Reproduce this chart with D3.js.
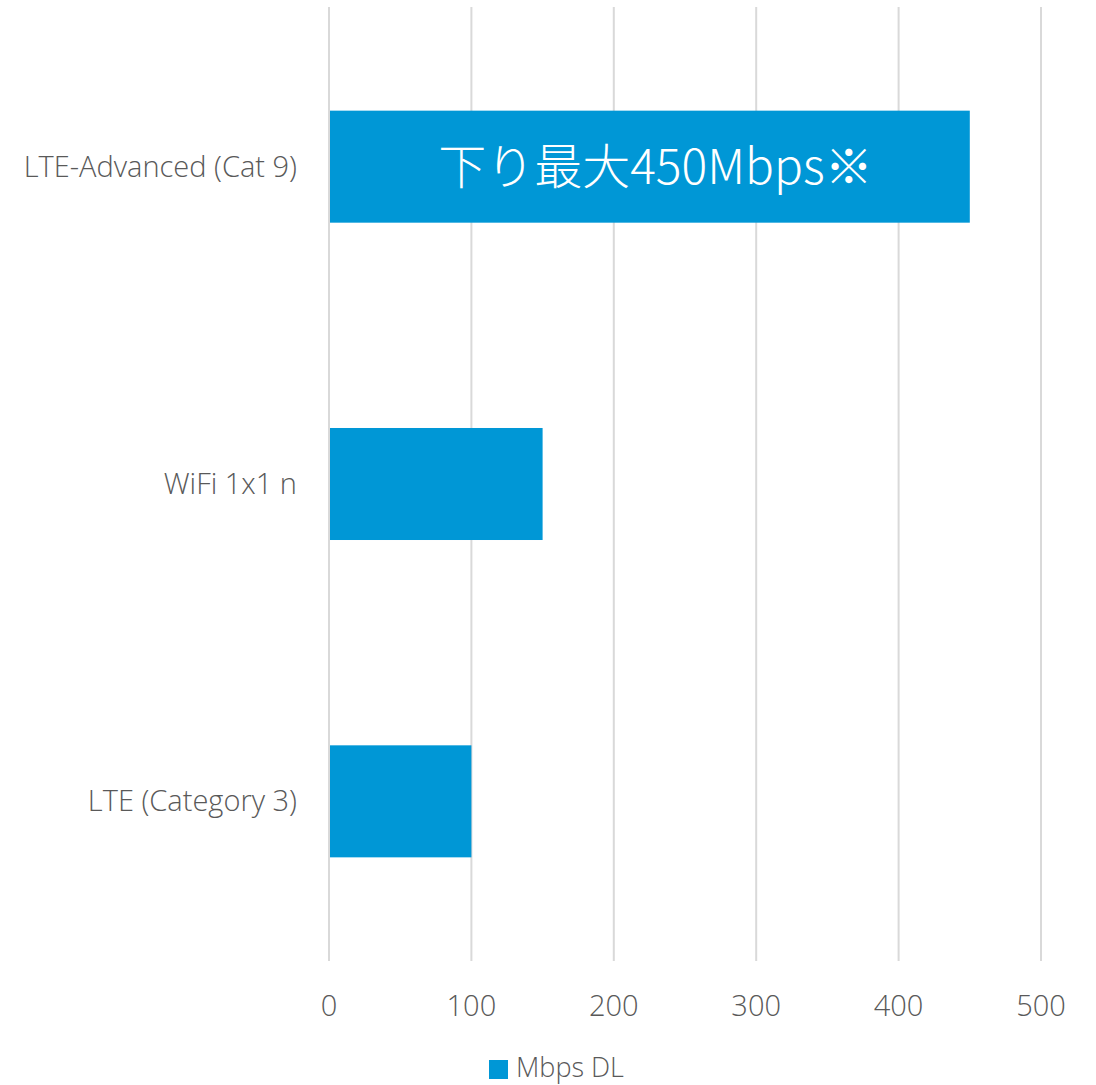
<!DOCTYPE html>
<html>
<head>
<meta charset="utf-8">
<script src="https://cdn.jsdelivr.net/npm/d3@7"></script>
<style>
  body { margin: 0; background: #fff; }
  svg text { font-family: "Open Sans", "Noto Sans", sans-serif; font-weight: 300; fill: #595959; }
</style>
</head>
<body>
<div id="chart"></div>
<script>
// データ
const categories = ["LTE-Advanced (Cat 9)", "WiFi 1x1 n", "LTE (Category 3)"];
const values = [450, 150, 100];
const ticks = [0, 100, 200, 300, 400, 500];
const seriesName = "Mbps DL";
const barNote = "下り最大450Mbps※";

const width = 1096, height = 1085;
const margin = { top: 8, right: 55, bottom: 125, left: 329 };
const color = "#0097d6";

const svg = d3.select("#chart").append("svg")
    .attr("width", width)
    .attr("height", height);

const x = d3.scaleLinear()
    .domain([0, 500])
    .range([margin.left, width - margin.right]);

const y = d3.scaleBand()
    .domain(categories)
    .range([margin.top, height - margin.bottom])
    .paddingInner(0.647)
    .paddingOuter(0.3235);

// グリッド線
svg.append("g")
    .selectAll("line")
    .data(ticks)
    .enter()
    .append("line")
    .attr("x1", d => x(d))
    .attr("x2", d => x(d))
    .attr("y1", margin.top - 1)
    .attr("y2", height - margin.bottom + 1)
    .attr("stroke", "#d9d9d9")
    .attr("stroke-width", 2);

// 棒
svg.append("g")
    .selectAll("rect")
    .data(categories)
    .enter()
    .append("rect")
    .attr("x", x(0) + 1)
    .attr("y", d => y(d))
    .attr("width", (d, i) => x(values[i]) - x(0) - 1)
    .attr("height", y.bandwidth())
    .attr("fill", color);

// X軸ラベル
svg.append("g")
    .selectAll("text")
    .data(ticks)
    .enter()
    .append("text")
    .attr("x", d => x(d))
    .attr("y", 1016)
    .attr("text-anchor", "middle")
    .style("font-size", "29px")
    .text(d => d);

// カテゴリラベル
svg.append("g")
    .selectAll("text")
    .data(categories)
    .enter()
    .append("text")
    .attr("x", 297)
    .attr("y", d => y(d) + y.bandwidth() / 2)
    .attr("dy", "0.35em")
    .attr("text-anchor", "end")
    .style("font-size", "29px")
    .text(d => d);

// 注記
svg.append("text")
    .attr("x", (x(0) + x(values[0])) / 2 + 6)
    .attr("y", y(categories[0]) + y.bandwidth() / 2)
    .attr("dy", "0.36em")
    .attr("text-anchor", "middle")
    .style("font-family", "'Noto Sans CJK JP', sans-serif")
    .style("font-weight", 300)
    .style("font-size", "48px")
    .style("fill", "#fff")
    .text(barNote);

// 凡例
const legend = svg.append("g");
legend.append("rect")
    .attr("x", 489)
    .attr("y", 1060)
    .attr("width", 19)
    .attr("height", 19)
    .attr("fill", color);
legend.append("text")
    .attr("x", 516)
    .attr("y", 1077)
    .style("font-size", "27px")
    .text(seriesName);
</script>
</body>
</html>
